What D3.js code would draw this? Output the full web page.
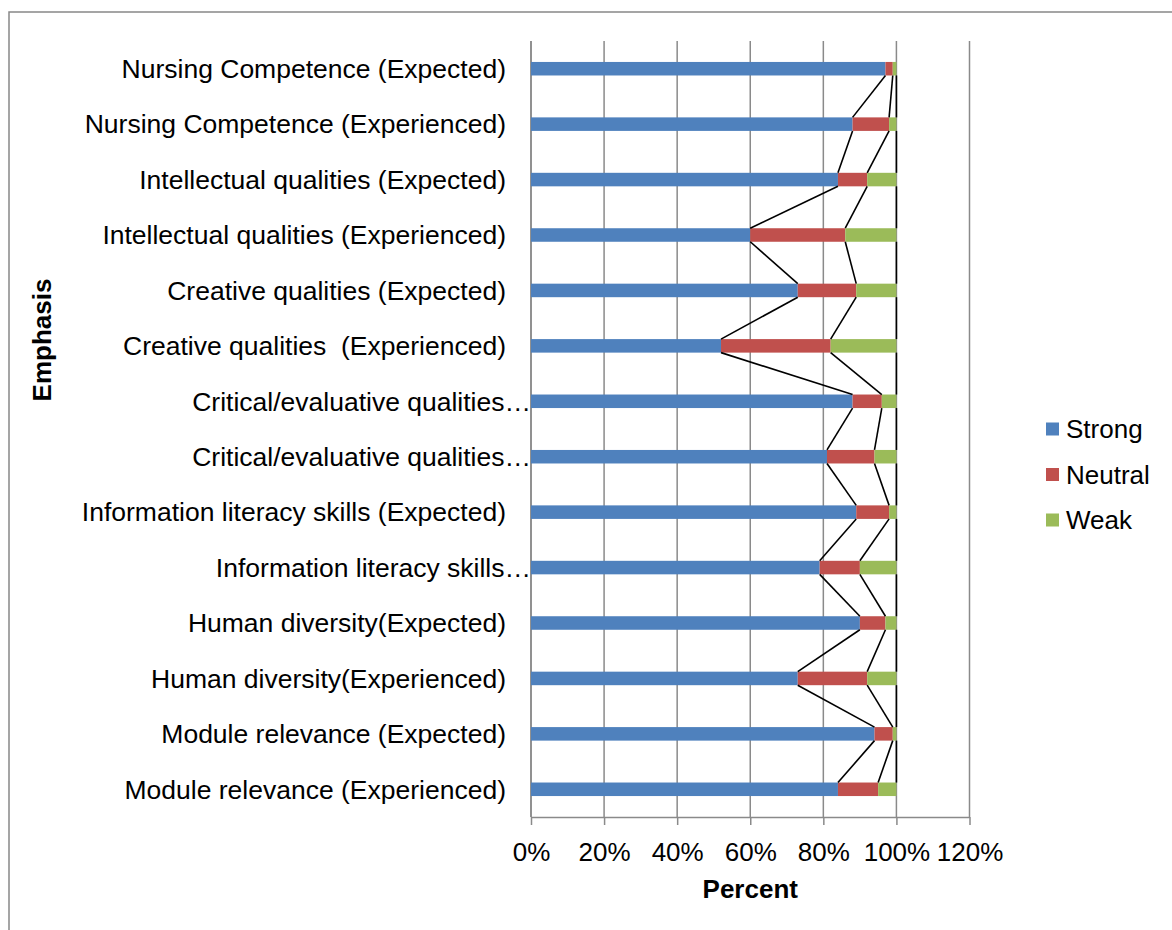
<!DOCTYPE html>
<html>
<head>
<meta charset="utf-8">
<script src="https://cdn.jsdelivr.net/npm/d3@7"></script>
<style>
  html, body { margin: 0; padding: 0; background: #fff; }
  svg { display: block; font-family: "Liberation Sans", Arial, sans-serif; }
</style>
</head>
<body>
<svg id="chart" width="1172" height="930"></svg>
<script>
const categories = [
  "Nursing Competence (Expected)",
  "Nursing Competence (Experienced)",
  "Intellectual qualities (Expected)",
  "Intellectual qualities (Experienced)",
  "Creative qualities (Expected)",
  "Creative qualities  (Experienced)",
  "Critical/evaluative qualities…",
  "Critical/evaluative qualities…",
  "Information literacy skills (Expected)",
  "Information literacy skills…",
  "Human diversity(Expected)",
  "Human diversity(Experienced)",
  "Module relevance (Expected)",
  "Module relevance (Experienced)"
];
const strong  = [97, 88, 84, 60, 73, 52, 88, 81, 89, 79, 90, 73, 94, 84];
const neutral = [ 2, 10,  8, 26, 16, 30,  8, 13,  9, 11,  7, 19,  5, 11];
const weak    = [ 1,  2,  8, 14, 11, 18,  4,  6,  2, 10,  3,  8,  1,  5];
const seriesNames = ["Strong", "Neutral", "Weak"];
const seriesColors = ["#4F81BD", "#C0504D", "#9BBB59"];
const xTicks = [0, 20, 40, 60, 80, 100, 120];

const FS = 26;
const svg = d3.select("#chart");
const pLeft = 531, pRight = 969.5, pTop = 41, pBottom = 817;

// outer border
svg.append("rect").attr("x", 9).attr("y", 12).attr("width", 1180).attr("height", 940)
  .attr("fill", "none").attr("stroke", "#888").attr("stroke-width", 1.5);

const x = d3.scaleLinear().domain([0, 120]).range([pLeft, pRight]);
const keys = categories.map((c, i) => i);
const y = d3.scaleBand().domain(keys).range([pTop, pBottom]).paddingInner(0.756).paddingOuter(0.378);

// gridlines
svg.append("g").selectAll("line").data(xTicks).join("line")
  .attr("x1", d => x(d)).attr("x2", d => x(d))
  .attr("y1", pTop).attr("y2", pBottom)
  .attr("stroke", "#8a8a8a").attr("stroke-width", 1.5);

// x axis
const xAxis = d3.axisBottom(x).tickValues(xTicks).tickFormat(d => d + "%").tickSizeOuter(0).tickSizeInner(8).tickPadding(8);
const gx = svg.append("g").attr("transform", `translate(0,${pBottom})`).call(xAxis);
gx.select(".domain").attr("stroke", "#8a8a8a").attr("stroke-width", 1.5);
gx.selectAll(".tick line").attr("stroke", "#8a8a8a").attr("stroke-width", 1.5);
gx.selectAll(".tick text").attr("font-size", FS).attr("fill", "#000")
  .attr("font-family", "Liberation Sans, Arial, sans-serif").attr("y", 44).attr("dy", 0);

// y axis line
svg.append("line").attr("x1", pLeft).attr("x2", pLeft).attr("y1", pTop).attr("y2", pBottom)
  .attr("stroke", "#8a8a8a").attr("stroke-width", 1.5);

// stacked data
const rows = categories.map((c, i) => ({ key: i, Strong: strong[i], Neutral: neutral[i], Weak: weak[i] }));
const stack = d3.stack().keys(seriesNames)(rows);

stack.forEach((layer, li) => {
  svg.append("g").selectAll("rect").data(layer).join("rect")
    .attr("x", d => x(d[0]))
    .attr("width", d => x(d[1]) - x(d[0]))
    .attr("y", d => y(d.data.key))
    .attr("height", y.bandwidth())
    .attr("fill", seriesColors[li]);
});

// series lines
stack.forEach((layer) => {
  const segs = [];
  for (let i = 0; i < layer.length - 1; i++) {
    segs.push({
      x1: x(layer[i][1]), y1: y(layer[i].data.key) + y.bandwidth(),
      x2: x(layer[i + 1][1]), y2: y(layer[i + 1].data.key)
    });
  }
  svg.append("g").selectAll("line").data(segs).join("line")
    .attr("x1", d => d.x1).attr("y1", d => d.y1)
    .attr("x2", d => d.x2).attr("y2", d => d.y2)
    .attr("stroke", "#000").attr("stroke-width", 1.6);
});

// category labels
svg.append("g").selectAll("text").data(categories).join("text")
  .attr("x", d => d.endsWith("…") ? 531 : 506)
  .attr("y", (d, i) => y(i) + y.bandwidth() / 2)
  .attr("dy", "0.35em")
  .attr("text-anchor", "end")
  .attr("font-size", 26.5)
  .attr("fill", "#000")
  .style("white-space", "pre")
  .text(d => d);

// axis titles
svg.append("text").attr("x", x(60)).attr("y", 898).attr("text-anchor", "middle")
  .attr("font-size", FS).attr("font-weight", "bold").text("Percent");
svg.append("text").attr("transform", "translate(51,340) rotate(-90)").attr("text-anchor", "middle")
  .attr("font-size", FS).attr("font-weight", "bold").text("Emphasis");

// legend
const lg = svg.append("g");
seriesNames.forEach((s, i) => {
  const cy = 429 + i * 45.5;
  lg.append("rect").attr("x", 1046).attr("y", cy - 6.5).attr("width", 13).attr("height", 13).attr("fill", seriesColors[i]);
  lg.append("text").attr("x", 1066).attr("y", cy).attr("dy", "0.35em").attr("font-size", FS).text(s);
});
</script>
</body>
</html>
